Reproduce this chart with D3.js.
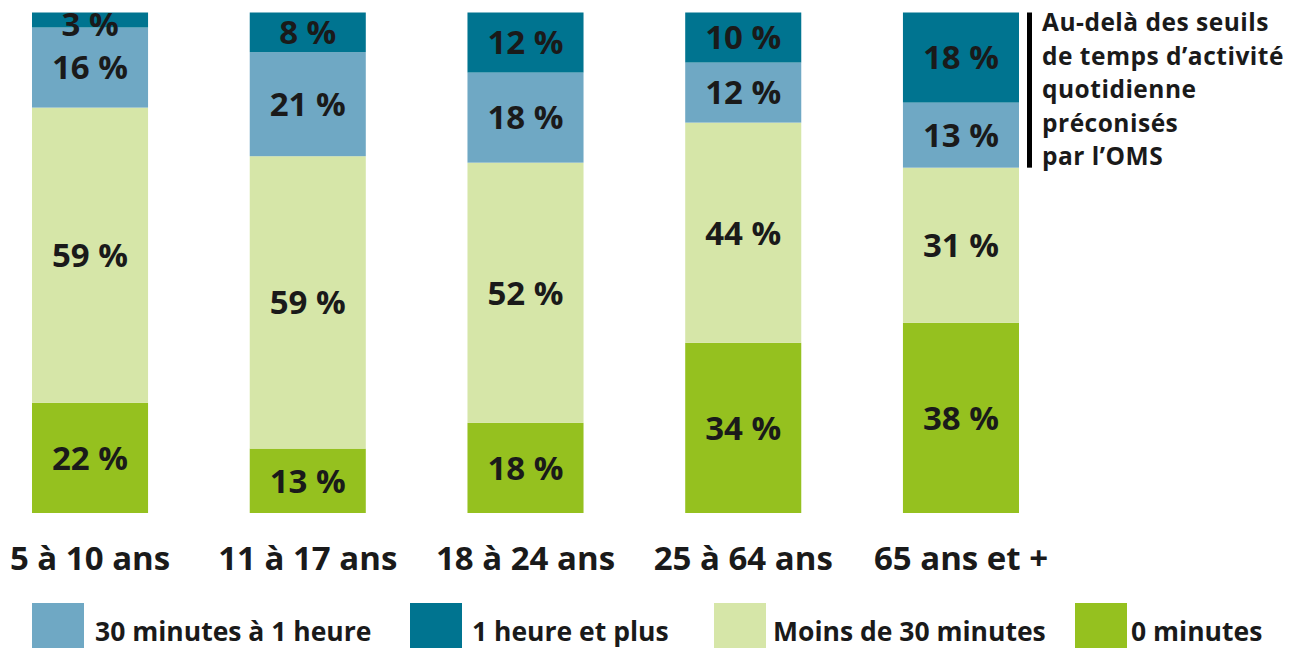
<!DOCTYPE html>
<html><head><meta charset="utf-8">
<script src="https://cdn.jsdelivr.net/npm/d3@7"></script>
<style>
html,body{margin:0;padding:0;background:#fff;}
svg text{font-family:"Open Sans",sans-serif;font-weight:700;fill:#1a1a1a;}
</style></head>
<body>
<svg id="c" width="1303" height="648"></svg>
<script>
const categories = ["5 à 10 ans","11 à 17 ans","18 à 24 ans","25 à 64 ans","65 ans et +"];
const seriesKeys = ["0 minutes","Moins de 30 minutes","30 minutes à 1 heure","1 heure et plus"];
const zeroMin   = [22,13,18,34,38];
const lessThan30 = [59,59,52,44,31];
const min30to1h = [16,21,18,12,13];
const oneHourPlus = [3,8,12,10,18];
const legendOrder = ["30 minutes à 1 heure","1 heure et plus","Moins de 30 minutes","0 minutes"];
const noteLines = ["Au-delà des seuils","de temps d’activité","quotidienne","préconisés","par l’OMS"];
const colors = {"0 minutes":"#95c11f","Moins de 30 minutes":"#d6e6a8","30 minutes à 1 heure":"#6fa8c4","1 heure et plus":"#007490"};

const table = categories.map((c,i)=>({cat:c,"0 minutes":zeroMin[i],"Moins de 30 minutes":lessThan30[i],"30 minutes à 1 heure":min30to1h[i],"1 heure et plus":oneHourPlus[i]}));
const stack = d3.stack().keys(seriesKeys).offset(d3.stackOffsetExpand)(table);

const svg = d3.select("#c");
const x = d3.scaleBand().domain(categories).range([32,1019]).paddingInner(0.467).paddingOuter(0);
const y = d3.scaleLinear().domain([0,1]).range([513,12.5]);

const g = svg.append("g");
const layers = g.selectAll("g.layer").data(stack).join("g").attr("class","layer").attr("fill",d=>colors[d.key]);
layers.selectAll("rect").data(d=>d.map(v=>Object.assign(v,{key:d.key}))).join("rect")
  .attr("x",d=>x(d.data.cat)).attr("width",x.bandwidth())
  .attr("y",d=>y(d[1])).attr("height",d=>y(d[0])-y(d[1]));

layers.selectAll("text").data(d=>d).join("text")
  .attr("x",d=>x(d.data.cat)+x.bandwidth()/2)
  .attr("y",d=>Math.max((y(d[0])+y(d[1]))/2, 24))
  .attr("dy","0.36em")
  .attr("text-anchor","middle")
  .style("font-size","33px")
  .text(d=>d.data[d.key]+" %");

// category axis
const xAxis = d3.axisBottom(x).tickSize(0).tickPadding(0);
const ax = svg.append("g").attr("transform","translate(0,547)").call(xAxis);
ax.select(".domain").remove();
ax.selectAll("text").attr("dy","0.71em").style("font-size","33px").style("fill","#1a1a1a").style("font-family","Open Sans").style("font-weight","700");

// annotation
const last = stack[3][4], prev = stack[2][4];
svg.append("rect").attr("x",1027).attr("width",5).attr("y",y(last[1])).attr("height",y(prev[0])-y(last[1])).attr("fill","#000");
svg.append("g").selectAll("text").data(noteLines).join("text")
  .attr("x",1042).attr("y",(d,i)=>31+i*33.5).style("font-size","24.5px").style("letter-spacing","0.5px").text(d=>d);

// legend
const legX = [32,410,714,1075];
const legTextX = [95,472,773,1131];
const leg = svg.append("g").selectAll("g").data(legendOrder).join("g").attr("transform",(d,i)=>`translate(${legX[i]},603)`);
leg.append("rect").attr("width",52).attr("height",52).attr("fill",d=>colors[d]);
leg.append("text").attr("x",(d,i)=>legTextX[i]-legX[i]).attr("y",38).style("font-size","26.5px").text(d=>d);
</script>
</body></html>
